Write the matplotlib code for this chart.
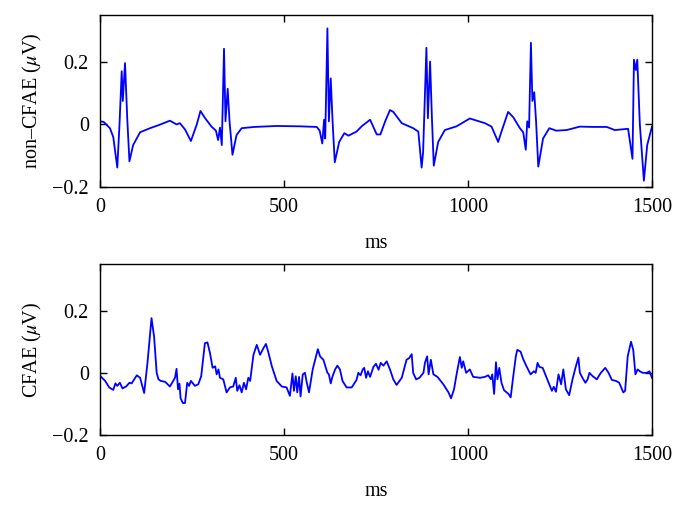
import matplotlib
matplotlib.use('Agg')
import matplotlib.pyplot as plt

# non-CFAE signal (ms, uV)
t_top = [0, 10, 27, 36, 47, 53, 59, 62, 68, 74, 80, 90, 109, 136, 160, 190, 208, 217,
         231, 247, 263, 273, 285, 303, 315, 321, 326, 331, 337, 341, 347, 352, 360, 371,
         385, 420, 480, 540, 589, 597, 604, 609, 612, 618, 622, 627, 632, 638, 650, 664,
         675, 697, 712, 734, 752, 762, 775, 788, 797, 820, 851, 865, 874, 878, 887, 891,
         897, 902, 907, 919, 937, 969, 1005, 1046, 1064, 1082, 1091, 1109, 1123, 1141,
         1150, 1157, 1161, 1166, 1171, 1175, 1180, 1185, 1191, 1204, 1221, 1240, 1268,
         1304, 1340, 1377, 1399, 1435, 1447, 1451, 1456, 1460, 1467, 1478, 1487, 1500]
v_top = [0.01, 0.008, -0.012, -0.04, -0.138, 0.0, 0.17, 0.075, 0.196, 0.02, -0.118, -0.066,
         -0.025, -0.012, -0.002, 0.012, 0.0, 0.004, -0.016, -0.053, 0.0, 0.043, 0.021,
         -0.007, -0.02, -0.05, -0.01, -0.066, 0.242, 0.01, 0.114, 0.01, -0.097, -0.034,
         -0.012, -0.008, -0.005, -0.006, -0.008, -0.02, -0.061, 0.015, -0.045, 0.307, 0.01,
         0.147, 0.01, -0.121, -0.056, -0.028, -0.036, -0.023, -0.005, 0.015, -0.032, -0.032,
         0.01, 0.046, 0.04, 0.004, -0.012, -0.023, -0.138, -0.089, 0.245, 0.02, 0.201, 0.02,
         -0.132, -0.056, -0.018, -0.006, 0.019, 0.004, -0.007, -0.056, -0.023, 0.04, 0.023,
         -0.012, -0.025, -0.081, 0.01, -0.01, 0.261, 0.075, 0.103, 0.01, -0.135, -0.045,
         -0.012, -0.02, -0.018, -0.007, -0.008, -0.008, -0.018, -0.014, -0.11, 0.207, 0.174,
         0.207, 0.0, -0.18, -0.066, -0.007]

# CFAE signal
t_bot = [0, 3, 14, 25, 36, 42, 47, 54, 61, 71, 80, 86, 100, 109, 120, 129, 140, 147, 154,
         159, 165, 177, 190, 199, 204, 208, 212, 216, 219, 225, 231, 237, 242, 247, 258,
         267, 275, 285, 292, 299, 306, 313, 317, 322, 326, 335, 344, 353, 362, 369, 373,
         379, 385, 391, 397, 403, 408, 417, 426, 435, 444, 451, 457, 467, 480, 494, 507,
         516, 523, 527, 532, 536, 541, 545, 551, 557, 562, 568, 578, 592, 598, 607, 618,
         622, 627, 632, 639, 645, 652, 659, 670, 684, 697, 702, 708, 714, 718, 723, 728,
         734, 743, 750, 757, 763, 770, 779, 788, 797, 806, 820, 833, 840, 847, 851, 859,
         868, 879, 883, 889, 893, 899, 906, 917, 933, 947, 954, 962, 969, 978, 983, 987,
         995, 1005, 1014, 1033, 1046, 1055, 1062, 1066, 1071, 1076, 1080, 1085, 1091, 1098,
         1110, 1116, 1123, 1130, 1134, 1143, 1150, 1159, 1170, 1179, 1184, 1189, 1194, 1203,
         1212, 1221, 1228, 1233, 1239, 1246, 1253, 1259, 1266, 1275, 1284, 1292, 1300, 1304,
         1311, 1319, 1325, 1330, 1339, 1350, 1361, 1373, 1382, 1391, 1402, 1411, 1422, 1427,
         1434, 1443, 1449, 1455, 1461, 1467, 1475, 1486, 1493, 1500]
v_bot = [-0.01, -0.013, -0.026, -0.047, -0.055, -0.034, -0.042, -0.032, -0.05, -0.044, -0.032,
         -0.034, -0.008, -0.016, -0.065, 0.032, 0.176, 0.116, 0.0, -0.021, -0.026, -0.029,
         -0.044, -0.026, -0.015, 0.013, -0.053, -0.035, -0.082, -0.097, -0.097, -0.032,
         -0.042, -0.026, -0.042, -0.037, -0.011, 0.095, 0.098, 0.063, 0.016, 0.021, -0.005,
         0.011, -0.016, -0.021, -0.063, -0.047, -0.044, -0.016, -0.058, -0.04, -0.063, -0.032,
         -0.053, -0.016, -0.026, 0.058, 0.09, 0.058, 0.079, 0.093, 0.068, 0.021, -0.026,
         -0.044, -0.047, -0.074, -0.002, -0.058, -0.011, -0.063, -0.013, -0.076, -0.005, 0.0,
         -0.032, -0.063, 0.011, 0.076, 0.053, 0.042, 0.0, -0.005, -0.034, -0.011, 0.011,
         0.023, 0.011, -0.026, -0.047, -0.047, -0.023, 0.0, -0.008, 0.011, 0.016, -0.016,
         0.005, -0.013, 0.019, 0.029, 0.01, 0.032, 0.023, 0.037, 0.011, -0.021, -0.039,
         -0.016, 0.042, 0.047, 0.06, 0.0, -0.021, -0.016, 0.0, 0.032, 0.053, -0.005, 0.042,
         -0.005, -0.013, -0.037, -0.063, -0.082, -0.053, -0.005, 0.051, 0.016, 0.037, 0.0,
         0.011, -0.013, -0.016, -0.013, -0.008, -0.021, -0.005, -0.068, 0.034, -0.021, 0.016,
         -0.032, -0.056, -0.068, -0.079, -0.011, 0.053, 0.074, 0.068, 0.044, 0.021, -0.005,
         0.005, 0.0, 0.032, 0.019, 0.016, -0.011, -0.037, -0.058, -0.045, -0.061, -0.005,
         -0.037, 0.011, -0.053, -0.072, -0.021, 0.016, 0.049, 0.0, -0.016, -0.032, -0.021,
         0.0, -0.011, -0.021, 0.0, 0.016, 0.0, -0.023, -0.026, -0.032, -0.063, -0.058, 0.053,
         0.1, 0.074, -0.005, 0.011, 0.005, 0.0, 0.0, 0.005, -0.016]

plt.rcParams['font.family'] = ['Liberation Serif', 'DejaVu Serif']
plt.rcParams['mathtext.fontset'] = 'stix'
plt.rcParams['font.size'] = 14.5

fig = plt.figure(figsize=(6.84, 5.07), dpi=100)
ax1 = fig.add_axes([0.1462, 0.6312, 0.807, 0.3393])
ax2 = fig.add_axes([0.1462, 0.142, 0.807, 0.3373])

for ax, t, v, lab in [(ax1, t_top, v_top, 'non\u2013CFAE ($\\mu$V)'),
                      (ax2, t_bot, v_bot, 'CFAE ($\\mu$V)')]:
    ax.plot(t, v, color='#0000ff', lw=1.3)
    ax.set_xlim(0, 1500)
    ax.set_ylim(-0.2, 0.35)
    ax.set_xticks([0, 500, 1000, 1500])
    ax.set_yticks([-0.2, 0, 0.2])
    ax.set_yticklabels(['\u22120.2', '0', '0.2'])
    ax.tick_params(direction='in', top=True, right=True, length=5, width=1.0)
    ax.tick_params(axis='x', pad=8)
    ax.tick_params(axis='y', pad=8)
    for s in ax.spines.values():
        s.set_linewidth(1.0)
    ax.set_xlabel('ms', labelpad=12)
    ax.set_ylabel(lab, labelpad=6)

fig.savefig('out.png', dpi=100)
